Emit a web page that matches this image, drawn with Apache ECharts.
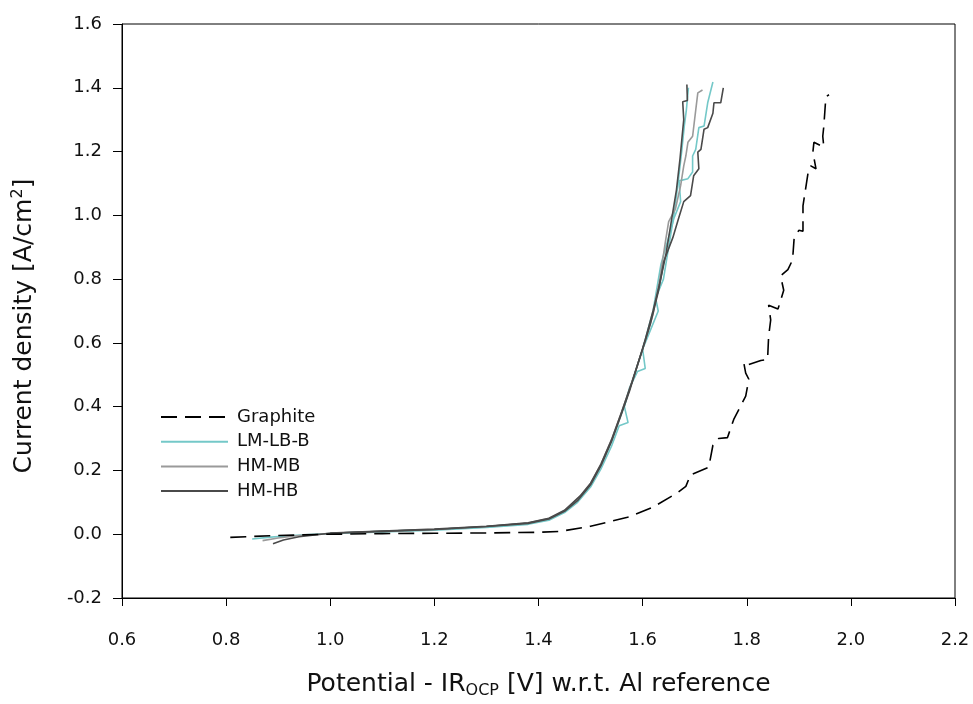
<!DOCTYPE html>
<html>
<head>
<meta charset="utf-8">
<script src="https://cdn.jsdelivr.net/npm/echarts@6/dist/echarts.min.js"></script>
<style>html,body{margin:0;padding:0;background:#fff}#c{width:973px;height:704px}</style>
</head>
<body>
<div id="c"></div>
<script>
// ---- data ----
var xTicks = [0.6, 0.8, 1.0, 1.2, 1.4, 1.6, 1.8, 2.0, 2.2];
var yTicks = [-0.2, 0.0, 0.2, 0.4, 0.6, 0.8, 1.0, 1.2, 1.4, 1.6];
var legendNames = ['Graphite', 'LM-LB-B', 'HM-MB', 'HM-HB'];

var graphiteX = [0.808, 0.85, 0.9, 1.0, 1.1, 1.2, 1.3, 1.4, 1.442, 1.5, 1.571, 1.62, 1.667, 1.683, 1.692, 1.727, 1.735, 1.746, 1.763, 1.775, 1.798, 1.804, 1.798, 1.794, 1.804, 1.827, 1.840, 1.842, 1.846, 1.842, 1.860, 1.871, 1.869, 1.865, 1.879, 1.888, 1.891, 1.900, 1.908, 1.908, 1.919, 1.923, 1.933, 1.927, 1.929, 1.948, 1.946, 1.948, 1.952, 1.958];
var graphiteY = [-0.01, -0.007, -0.004, 0.0, 0.002, 0.003, 0.004, 0.006, 0.009, 0.025, 0.053, 0.085, 0.13, 0.15, 0.186, 0.21, 0.279, 0.30, 0.303, 0.36, 0.433, 0.486, 0.505, 0.54, 0.532, 0.545, 0.548, 0.62, 0.672, 0.718, 0.706, 0.765, 0.78, 0.81, 0.83, 0.86, 0.928, 0.953, 0.95, 1.03, 1.146, 1.155, 1.146, 1.198, 1.229, 1.214, 1.248, 1.279, 1.372, 1.378];

var lmlb1X = [0.85, 0.88, 0.92, 0.96, 1.0, 1.1, 1.2, 1.3, 1.38, 1.42, 1.45, 1.475, 1.5, 1.52, 1.54, 1.555, 1.572, 1.565, 1.575, 1.59, 1.605, 1.60, 1.615, 1.630, 1.625, 1.64, 1.65, 1.66, 1.668, 1.675, 1.68, 1.684, 1.688];
var lmlb1Y = [-0.015, -0.01, -0.005, -0.001, 0.002, 0.007, 0.013, 0.021, 0.031, 0.044, 0.068, 0.10, 0.148, 0.205, 0.275, 0.34, 0.35, 0.40, 0.46, 0.51, 0.52, 0.58, 0.64, 0.70, 0.74, 0.80, 0.90, 1.00, 1.10, 1.20, 1.28, 1.33, 1.40];
var lmlb2X = [1.0, 1.1, 1.2, 1.3, 1.38, 1.42, 1.45, 1.48, 1.5, 1.52, 1.54, 1.56, 1.58, 1.60, 1.62, 1.635, 1.648, 1.66, 1.673, 1.670, 1.687, 1.696, 1.696, 1.702, 1.708, 1.718, 1.725, 1.735];
var lmlb2Y = [0.003, 0.009, 0.015, 0.023, 0.033, 0.047, 0.071, 0.115, 0.155, 0.215, 0.29, 0.38, 0.48, 0.58, 0.70, 0.845, 0.92, 0.99, 1.043, 1.108, 1.115, 1.136, 1.186, 1.207, 1.275, 1.28, 1.353, 1.418];

var hmmbX = [0.87, 0.9, 0.94, 0.98, 1.0, 1.1, 1.2, 1.3, 1.38, 1.42, 1.45, 1.48, 1.5, 1.52, 1.54, 1.56, 1.58, 1.60, 1.62, 1.633, 1.644, 1.65, 1.663, 1.673, 1.679, 1.683, 1.687, 1.696, 1.702, 1.706, 1.715];
var hmmbY = [-0.02, -0.012, -0.004, 0.0, 0.003, 0.009, 0.015, 0.024, 0.035, 0.049, 0.074, 0.118, 0.158, 0.22, 0.295, 0.385, 0.48, 0.58, 0.69, 0.80, 0.92, 0.98, 1.02, 1.093, 1.155, 1.186, 1.229, 1.248, 1.33, 1.384, 1.393];

var hmhb1X = [0.89, 0.91, 0.94, 0.97, 1.0, 1.1, 1.2, 1.3, 1.38, 1.42, 1.45, 1.475, 1.5, 1.52, 1.54, 1.56, 1.575, 1.59, 1.605, 1.62, 1.632, 1.645, 1.655, 1.665, 1.672, 1.676, 1.679, 1.677, 1.686, 1.685];
var hmhb1Y = [-0.03, -0.018, -0.008, -0.002, 0.003, 0.009, 0.015, 0.024, 0.034, 0.048, 0.072, 0.105, 0.155, 0.215, 0.29, 0.38, 0.45, 0.53, 0.61, 0.70, 0.78, 0.88, 0.98, 1.08, 1.18, 1.25, 1.30, 1.356, 1.36, 1.41];
var hmhb2X = [1.0, 1.1, 1.2, 1.3, 1.38, 1.42, 1.45, 1.48, 1.5, 1.52, 1.54, 1.56, 1.58, 1.60, 1.615, 1.63, 1.641, 1.658, 1.669, 1.679, 1.692, 1.698, 1.708, 1.706, 1.712, 1.718, 1.725, 1.735, 1.737, 1.750, 1.755];
var hmhb2Y = [0.004, 0.010, 0.016, 0.025, 0.036, 0.05, 0.075, 0.12, 0.16, 0.22, 0.295, 0.385, 0.48, 0.58, 0.66, 0.76, 0.857, 0.93, 0.99, 1.043, 1.062, 1.124, 1.146, 1.198, 1.207, 1.27, 1.275, 1.32, 1.353, 1.353, 1.40];

function zip(xs, ys) { return xs.map(function (x, i) { return [x, ys[i]]; }); }

var FONT = '"DejaVu Sans", "Liberation Sans", Arial, sans-serif';
var COL = { graphite: '#000000', lmlb: '#74c8c8', hmmb: '#9a9a9a', hmhb: '#4a4a4a' };

function line(name, data, color, type, z) {
  return {
    name: name, type: 'line', data: data, symbol: 'none', showSymbol: false,
    smooth: false, animation: false, z: z || 2,
    lineStyle: { color: color, width: 1.6, type: type || 'solid' },
    itemStyle: { color: color }
  };
}

var chart = echarts.init(document.getElementById('c'), null, { renderer: 'canvas' });
chart.setOption({
  backgroundColor: '#ffffff',
  animation: false,
  grid: { left: 122, right: 18, top: 24, bottom: 99, show: true, borderColor: '#000', borderWidth: 1, backgroundColor: 'transparent' },
  legend: {
    data: legendNames,
    orient: 'vertical',
    left: 155, top: 403,
    itemWidth: 67, itemHeight: 14, itemGap: 6.7,
    itemStyle: { opacity: 0 },
    textStyle: { fontFamily: FONT, fontSize: 18, color: '#111', padding: [0, 0, 0, 4] },
    selectedMode: false
  },
  xAxis: {
    type: 'value', min: 0.6, max: 2.2, interval: 0.2,
    axisLine: { show: true, onZero: false, lineStyle: { color: '#000', width: 1 } },
    axisTick: { show: true, inside: false, length: 8, lineStyle: { color: '#000' } },
    axisLabel: { fontFamily: FONT, fontSize: 18, color: '#111', margin: 33,
      formatter: function (v) { return v.toFixed(1); } },
    splitLine: { show: false },
    name: 'Potential - IR{sub|OCP} [V] w.r.t. Al reference',
    nameLocation: 'middle', nameGap: 71,
    nameTextStyle: { fontFamily: FONT, fontSize: 25, color: '#111',
      rich: { sub: { fontFamily: FONT, fontSize: 16, color: '#111', verticalAlign: 'bottom', padding: [14, 0, 0, 0] } } }
  },
  yAxis: {
    type: 'value', min: -0.2, max: 1.6, interval: 0.2,
    axisLine: { show: true, onZero: false, lineStyle: { color: '#000', width: 1 } },
    axisTick: { show: true, inside: false, length: 9, lineStyle: { color: '#000' } },
    axisLabel: { fontFamily: FONT, fontSize: 18, color: '#111', margin: 20,
      formatter: function (v) { return v.toFixed(1); } },
    splitLine: { show: false },
    name: 'Current density [A/cm{sup|2}]',
    nameLocation: 'middle', nameGap: 84,
    nameTextStyle: { fontFamily: FONT, fontSize: 25, color: '#111', padding: [0, 30, 0, 0],
      rich: { sup: { fontFamily: FONT, fontSize: 16, color: '#111', verticalAlign: 'top', padding: [0, 0, 12, 0] } } }
  },
  series: [
    line('Graphite', zip(graphiteX, graphiteY), COL.graphite, [16, 8], 5),
    line('LM-LB-B', zip(lmlb1X, lmlb1Y), COL.lmlb, 'solid', 2),
    line('HM-MB', zip(hmmbX, hmmbY), COL.hmmb, 'solid', 3),
    line('HM-HB', zip(hmhb1X, hmhb1Y), COL.hmhb, 'solid', 4),
    line('LM-LB-B', zip(lmlb2X, lmlb2Y), COL.lmlb, 'solid', 2),
    line('HM-HB', zip(hmhb2X, hmhb2Y), COL.hmhb, 'solid', 4)
  ]
});
</script>
</body>
</html>
